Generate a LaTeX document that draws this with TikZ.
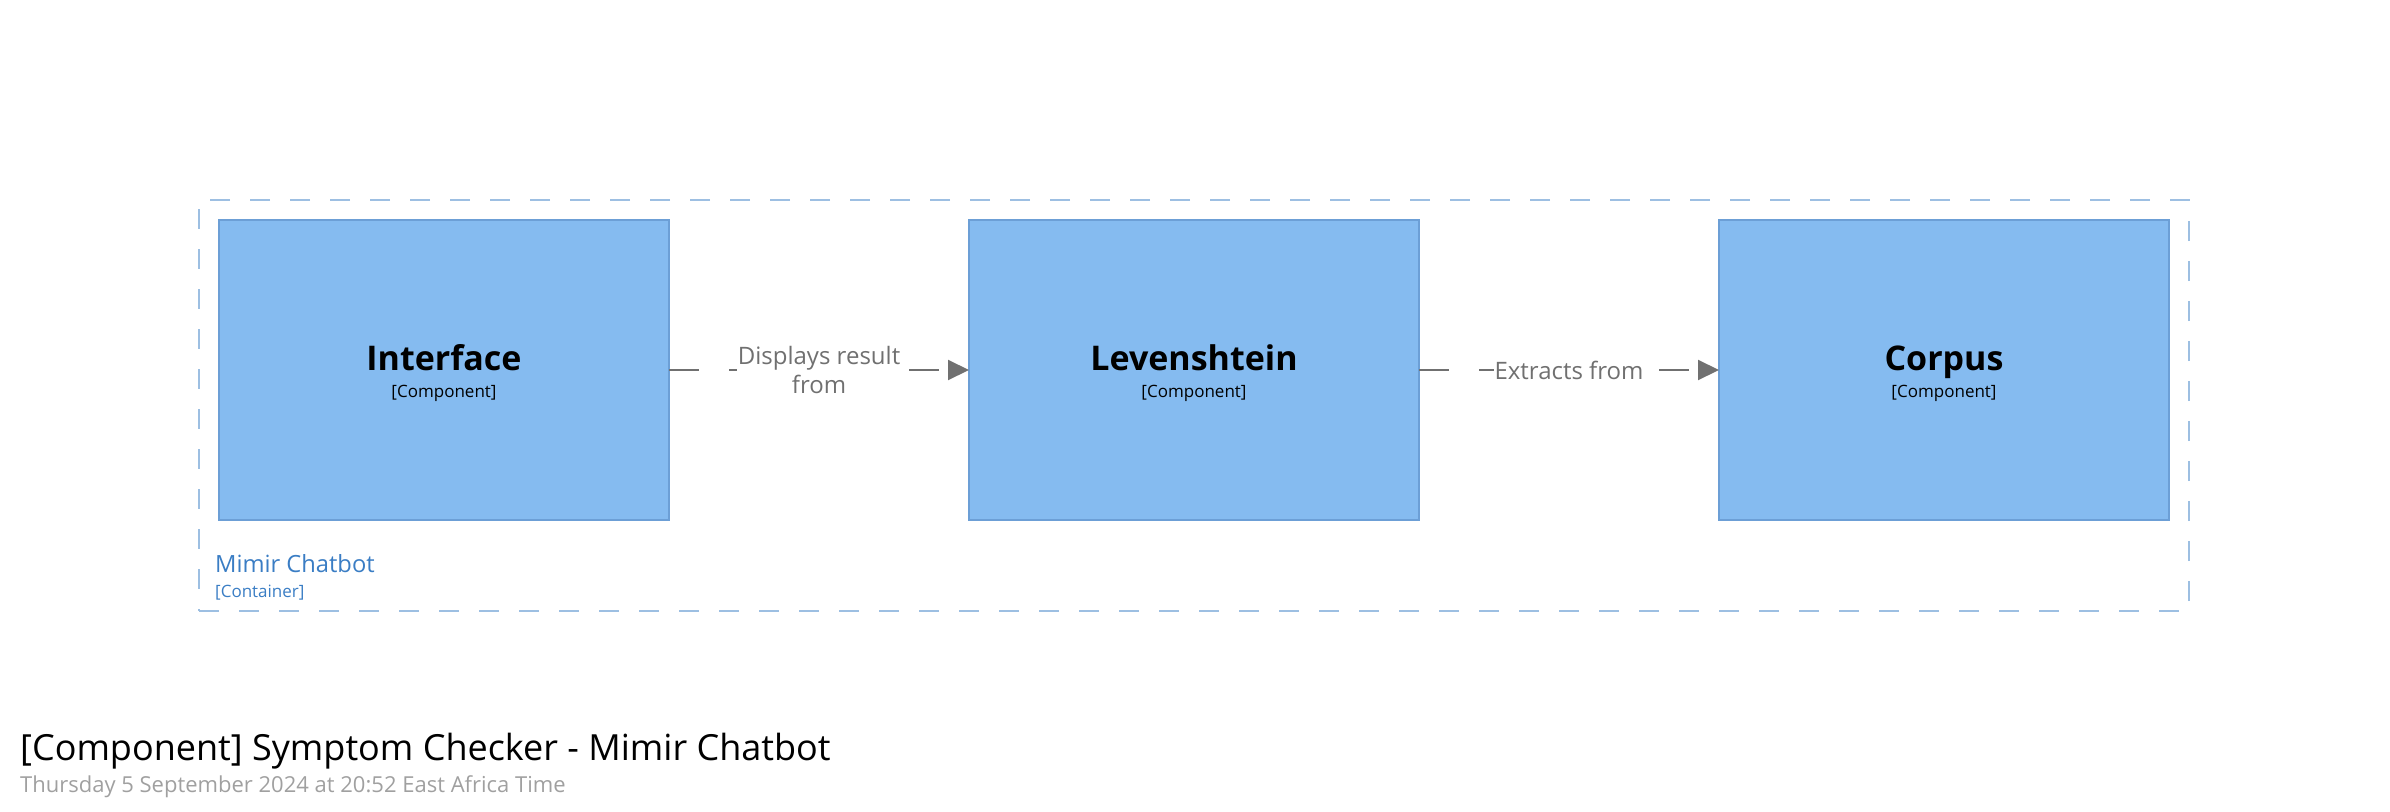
\documentclass[tikz,border=0pt]{standalone}
\usepackage{fontspec}
\setmainfont{Open Sans}
\usetikzlibrary{arrows.meta}
\definecolor{compfill}{HTML}{85BBF0}
\definecolor{compline}{HTML}{6C9FD6}
\definecolor{contline}{HTML}{9DBFE2}
\definecolor{conttext}{HTML}{3A7DC4}
\definecolor{relgray}{HTML}{707070}
\definecolor{subgray}{HTML}{A0A0A0}
\begin{document}
\begin{tikzpicture}[x=1pt,y=-1pt,
 comp/.style={draw=compline, fill=compfill, line width=1.5pt, minimum width=450pt, minimum height=300pt, inner sep=0pt, outer sep=0pt},
 compname/.style={anchor=base, font=\fontsize{34}{40}\selectfont\bfseries, text=black, inner sep=0pt},
 comptype/.style={anchor=base, font=\fontsize{17}{20}\selectfont, text=black, inner sep=0pt},
 rel/.style={draw=relgray, line width=2pt, dash pattern=on 30pt off 30pt, -{Triangle[length=21pt,width=20pt]}},
 rellabel/.style={fill=white, text=relgray, font=\fontsize{24}{29}\selectfont, align=center, inner sep=1pt},
 contbox/.style={draw=contline, dash pattern=on 20pt off 20pt, line width=1.5pt, minimum width=1990pt, minimum height=411pt, inner sep=0pt, outer sep=0pt},
 contname/.style={anchor=base west, text=conttext, inner sep=0pt},
]
\useasboundingbox (0,0) rectangle (2390,811);
\node[contbox] (cont) at (1194,405.5) {};
\node[contname, font=\fontsize{23.7}{28}\selectfont] (contT) at (215,572) {Mimir Chatbot};
\node[contname, font=\fontsize{17}{20}\selectfont] (contS) at (215,597) {[Container]};

\node[comp] (iface) at (444,370) {};
\node[compname] (ifaceT) at (444,370) {Interface};
\node[comptype] (ifaceS) at (444,397) {[Component]};

\node[comp] (lev) at (1194,370) {};
\node[compname] (levT) at (1194,370) {Levenshtein};
\node[comptype] (levS) at (1194,397) {[Component]};

\node[comp] (corp) at (1944,370) {};
\node[compname] (corpT) at (1944,370) {Corpus};
\node[comptype] (corpS) at (1944,397) {[Component]};

\draw[rel] (iface.east) -- (lev.west) node[midway, rellabel] (l1) {Displays result\\from};
\draw[rel] (lev.east) -- (corp.west) node[midway, rellabel] (l2) {Extracts from};

\node[anchor=base west, inner sep=0pt, font=\fontsize{36}{42}\selectfont] (title) at (20,760) {[Component] Symptom Checker - Mimir Chatbot};
\node[anchor=base west, inner sep=0pt, text=subgray, font=\fontsize{22}{26}\selectfont] (sub) at (20,792) {Thursday 5 September 2024 at 20:52 East Africa Time};
\end{tikzpicture}
\end{document}
